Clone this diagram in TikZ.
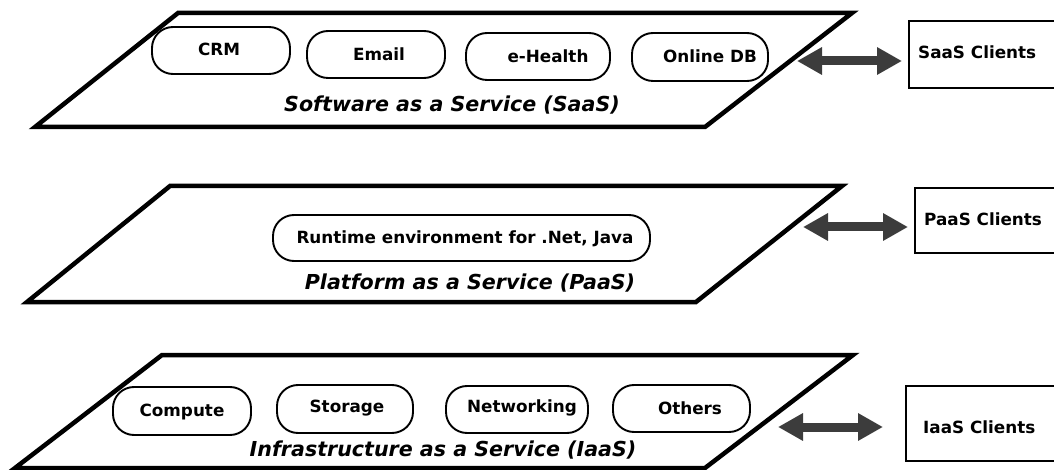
\documentclass[tikz,border=0pt]{standalone}
\usepackage{fontspec}
\setmainfont{DejaVu Sans}
\usetikzlibrary{arrows.meta}
\definecolor{arrowgray}{HTML}{3C3C3C}
\tikzset{
  layer/.style={line width=4.5pt, line join=miter},
  pill/.style={draw, line width=1.9pt, rounded corners=21pt, inner sep=0pt},
  pilltext/.style={inner sep=0pt, font=\fontsize{16.8}{20}\selectfont\bfseries},
  layertext/.style={inner sep=0pt, font=\fontsize{20.6}{24}\selectfont\bfseries\itshape},
  client/.style={draw, line width=2.2pt, inner sep=0pt, anchor=north west},
  clienttext/.style={inner sep=0pt, anchor=west, font=\fontsize{16.8}{20}\selectfont\bfseries},
  biarrow/.style={line width=9pt, arrowgray, {Triangle[length=25pt,width=26pt]}-{Triangle[length=25pt,width=26pt]}},
}
\begin{document}
\begin{tikzpicture}[x=1pt,y=-1pt]
\useasboundingbox (0,0) rectangle (1054,470);
\clip (0,0) rectangle (1054,470);

% ---------- SaaS ----------
\coordinate (s1) at (178,13);
\coordinate (s2) at (852,13);
\coordinate (s3) at (705,127);
\coordinate (s4) at (35,127);
\draw[layer] (s1) -- (s2) -- (s3) -- (s4) -- cycle;
\node[pill, minimum width=138pt, minimum height=47pt] (crm) at (221,50.5) {};
\node[pilltext] (crmt) at (219,49) {CRM};
\node[pill, minimum width=138pt, minimum height=47pt] (email) at (376,54.5) {};
\node[pilltext] (emailt) at (379,54) {Email};
\node[pill, minimum width=144pt, minimum height=47pt] (ehealth) at (538,56.5) {};
\node[pilltext] (ehealtht) at (548,56) {e-Health};
\node[pill, minimum width=136pt, minimum height=48pt] (onlinedb) at (700,57) {};
\node[pilltext] (onlinedbt) at (710,56) {Online DB};
\node[layertext] (saas) at (452,105) {Software as a Service (SaaS)};
\node[client, minimum width=170pt, minimum height=67pt] (saasc) at (908,20) {};
\node[clienttext] (saasct) at (918,52) {SaaS Clients};
\coordinate (sa1) at (797,61);
\coordinate (sa2) at (902,61);
\draw[biarrow] (sa1) -- (sa2);

% ---------- PaaS ----------
\coordinate (p1) at (170,186);
\coordinate (p2) at (842,186);
\coordinate (p3) at (696,302);
\coordinate (p4) at (27,302);
\draw[layer] (p1) -- (p2) -- (p3) -- (p4) -- cycle;
\node[pill, minimum width=377pt, minimum height=46pt] (runtime) at (461.5,238) {};
\node[pilltext] (runtimet) at (465,239) {Runtime environment for .Net, Java};
\node[layertext] (paas) at (470,283) {Platform as a Service (PaaS)};
\node[client, minimum width=170pt, minimum height=65pt] (paasc) at (914,187) {};
\node[clienttext] (paasct) at (924,219) {PaaS Clients};
\coordinate (pa1) at (803,227);
\coordinate (pa2) at (908,227);
\draw[biarrow] (pa1) -- (pa2);

% ---------- IaaS ----------
\coordinate (i1) at (162,355);
\coordinate (i2) at (853,355);
\coordinate (i3) at (705,468);
\coordinate (i4) at (15,468);
\draw[layer] (i1) -- (i2) -- (i3) -- (i4) -- cycle;
\node[pill, minimum width=138pt, minimum height=48pt] (compute) at (182,411) {};
\node[pilltext] (computet) at (182,412) {Compute};
\node[pill, minimum width=136pt, minimum height=48pt] (storage) at (345,409) {};
\node[pilltext] (storaget) at (347,408) {Storage};
\node[pill, minimum width=142pt, minimum height=47pt] (networking) at (517,409.5) {};
\node[pilltext] (networkingt) at (522,408) {Networking};
\node[pill, minimum width=137pt, minimum height=47pt] (others) at (681.5,408.5) {};
\node[pilltext] (otherst) at (690,408) {Others};
\node[layertext] (iaas) at (443,450) {Infrastructure as a Service (IaaS)};
\node[client, minimum width=170pt, minimum height=75pt] (iaasc) at (905,385) {};
\node[clienttext] (iaasct) at (923,427) {IaaS Clients};
\coordinate (ia1) at (778,427);
\coordinate (ia2) at (883,427);
\draw[biarrow] (ia1) -- (ia2);
\end{tikzpicture}
\end{document}
